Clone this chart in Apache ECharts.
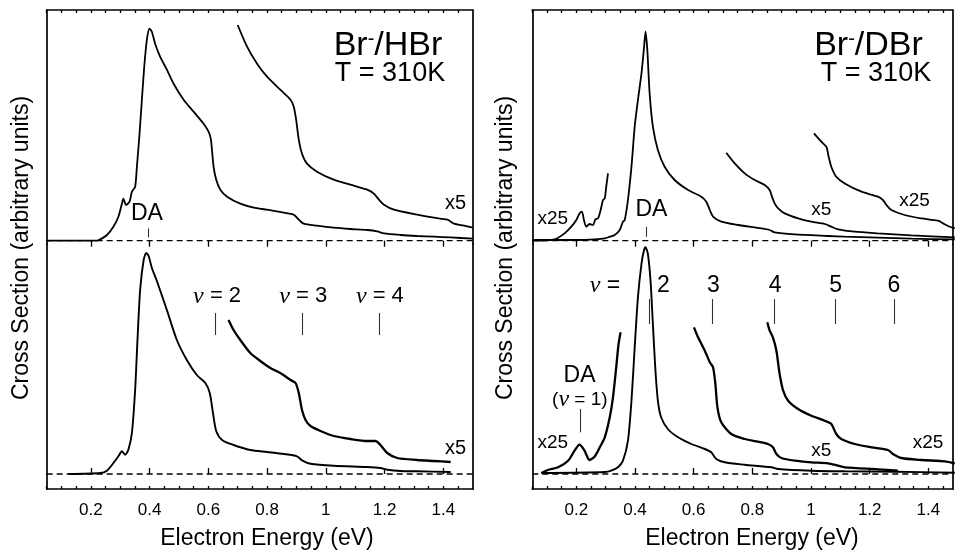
<!DOCTYPE html>
<html><head><meta charset="utf-8">
<script src="https://cdn.jsdelivr.net/npm/echarts@6/dist/echarts.min.js"></script>
<style>html,body{margin:0;padding:0;background:#fff}#c{width:958px;height:552px}</style>
</head><body><div id="c"></div>
<script>
// ---- tick labels ----
const xTickLabels = [0.2, 0.4, 0.6, 0.8, 1, 1.2, 1.4];
const xMinorTicks = [0.05,0.1,0.15,0.2,0.25,0.3,0.35,0.4,0.45,0.5,0.55,0.6,0.65,0.7,0.75,0.8,0.85,0.9,0.95,1,1.05,1.1,1.15,1.2,1.25,1.3,1.35,1.4,1.45];

// ---- Br-/HBr, calculated (top left) ----
const hbrCalc = [[0.05,0],[0.22,0],[0.232,1.3],[0.255,5.7],[0.277,14],[0.294,24],[0.306,37],[0.311,42],[0.32,35.7],[0.332,39],[0.34,49],[0.351,54],[0.357,74],[0.366,107],[0.374,141],[0.382,174],[0.391,201],[0.4,212],[0.408,209],[0.419,197],[0.436,184],[0.459,171],[0.482,157],[0.516,141],[0.55,129],[0.584,117],[0.601,109],[0.609,101],[0.618,74],[0.627,61],[0.641,51],[0.664,44],[0.709,37],[0.755,33],[0.8,31],[0.857,28],[0.891,26],[0.908,21],[0.925,17],[0.97,15],[1.027,13],[1.084,11.7],[1.141,10.7],[1.175,9.3],[1.198,7.3],[1.255,5.7],[1.311,4.7],[1.368,4],[1.425,3.3],[1.5,2]];
const hbrCalcX5 = [[0.7,215.7],[0.732,194],[0.766,177],[0.8,164],[0.845,151],[0.88,141],[0.891,134],[0.899,121],[0.908,101],[0.919,87],[0.936,77],[0.97,69],[1.027,61],[1.084,56],[1.141,51],[1.164,47],[1.181,41],[1.198,36],[1.232,31],[1.311,26],[1.368,23],[1.414,21],[1.436,17],[1.47,15],[1.5,13]];

// ---- Br-/HBr, measured (bottom left) ----
const hbrExp = [[0.124,0],[0.232,1],[0.255,3.3],[0.277,11],[0.294,17.7],[0.306,22.7],[0.317,19.3],[0.328,24.3],[0.34,41],[0.351,84],[0.359,134],[0.368,184],[0.38,214],[0.389,221],[0.397,218],[0.408,206],[0.425,193],[0.459,164],[0.493,134],[0.527,114],[0.561,99],[0.59,91],[0.605,81],[0.616,61],[0.627,43],[0.647,34],[0.686,29],[0.743,24],[0.8,22],[0.857,20],[0.902,17.7],[0.919,13.7],[0.948,10.3],[1.027,8.3],[1.141,7],[1.186,6],[1.209,4.3],[1.255,3],[1.311,2.7],[1.425,2]];
const hbrExpX5 = [[0.669,154],[0.686,144],[0.709,134],[0.743,121],[0.777,113],[0.811,106],[0.845,101],[0.88,94],[0.897,91],[0.908,81],[0.919,64],[0.931,54],[0.948,48],[0.982,43],[1.027,38],[1.084,35],[1.141,33],[1.169,33],[1.186,29],[1.209,21],[1.243,16],[1.311,14],[1.368,13],[1.425,12]];
const hbrVibThresholds = [0.624, 0.919, 1.181];
const hbrDA = 0.397;

// ---- Br-/DBr, calculated (top right) ----
const dbrCalc = [[0.05,0.7],[0.206,0.7],[0.262,1.3],[0.297,2.3],[0.314,4],[0.331,5.7],[0.348,10.7],[0.359,19],[0.365,20.7],[0.376,40.7],[0.388,74],[0.399,114],[0.41,140.7],[0.422,167],[0.43,190.7],[0.436,209],[0.442,190.7],[0.45,147],[0.461,114],[0.478,90.7],[0.501,74],[0.535,60.7],[0.581,50.7],[0.626,44],[0.643,39],[0.655,30.7],[0.666,24],[0.694,19],[0.751,15.7],[0.831,12.3],[0.859,10.7],[0.876,8.3],[0.944,6.3],[1.058,4.7],[1.115,4],[1.228,3],[1.342,2],[1.49,1.3]];
const dbrCalcX25Low = [[0.05,0],[0.126,1.3],[0.16,7.3],[0.183,14],[0.2,20.7],[0.211,27.3],[0.219,29],[0.226,20.7],[0.234,14],[0.245,16.7],[0.257,15.7],[0.265,21.3],[0.274,22.3],[0.283,30.7],[0.291,40.7],[0.297,42.3],[0.302,54],[0.308,67.3]];
const dbrCalcX5 = [[0.711,88],[0.74,77.3],[0.774,67.3],[0.808,60.7],[0.842,55.7],[0.859,50.7],[0.867,44],[0.876,37.3],[0.888,32.3],[0.91,27.3],[0.956,22.3],[1.001,19],[1.047,16.7],[1.069,14],[1.092,11.3],[1.149,9],[1.228,7.3],[1.285,6.3],[1.342,5.3],[1.49,3.3]];
const dbrCalcX25High = [[1.01,107.3],[1.035,99],[1.052,94],[1.06,84],[1.069,74],[1.086,64],[1.115,57.3],[1.172,49],[1.228,44],[1.245,40.7],[1.257,35.7],[1.274,30.7],[1.319,25.7],[1.376,22.3],[1.433,20],[1.45,17.3],[1.467,14.7],[1.49,12.3]];

// ---- Br-/DBr, measured (bottom right) ----
const dbrExp = [[0.081,1],[0.297,2],[0.319,3.3],[0.342,6.7],[0.359,13.3],[0.376,33.3],[0.388,73.3],[0.399,126.7],[0.41,176.7],[0.422,210],[0.43,223],[0.436,226.7],[0.444,220],[0.453,193],[0.461,150],[0.469,106.7],[0.478,73.3],[0.489,56.7],[0.512,45],[0.547,36.7],[0.592,30],[0.638,25],[0.66,21.7],[0.677,15],[0.706,11.7],[0.774,9.3],[0.865,6.7],[0.888,5],[1.001,3.3],[1.115,2.7],[1.285,2.3],[1.49,1.3]];
const dbrExpX25Low = [[0.081,1],[0.103,4],[0.138,6.7],[0.172,13.3],[0.194,23.3],[0.211,29.3],[0.228,23.3],[0.245,14],[0.262,17.3],[0.28,26.7],[0.297,36.7],[0.314,56.7],[0.325,76.7],[0.336,106.7],[0.344,130],[0.351,141.7]];
const dbrExpX5 = [[0.601,146.7],[0.615,136.7],[0.638,123.3],[0.655,111.7],[0.666,106.7],[0.674,90],[0.681,66.7],[0.694,51.7],[0.728,40],[0.774,35],[0.819,32.3],[0.853,30],[0.87,26.7],[0.882,20],[0.899,16],[0.944,13.3],[1.001,11.7],[1.058,10.7],[1.092,8.3],[1.115,6.7],[1.228,4.7],[1.296,3.3]];
const dbrExpX25High = [[0.851,151.7],[0.859,143.3],[0.87,136.7],[0.882,123.3],[0.893,100],[0.905,83.3],[0.922,73.3],[0.956,65],[1.001,58.3],[1.047,53.3],[1.069,50],[1.086,40],[1.103,35],[1.149,30],[1.206,26.7],[1.262,24],[1.279,20],[1.308,16],[1.376,14],[1.456,12.7],[1.49,10.7]];
const dbrVibThresholds = [0.449, 0.665, 0.876, 1.084, 1.282];
const dbrVibLabels = ['2','3','4','5','6'];
const dbrDA = 0.439;
const dbrDAv1 = 0.213;

// ---------------- layout ----------------
const FONT = '"Liberation Sans", Arial, Helvetica, sans-serif';
const grids = [
  {left:46.7, top:10, width:426, height:234},
  {left:46.7, top:244, width:426, height:245},
  {left:532.3, top:10, width:420.3, height:234},
  {left:532.3, top:244, width:420.3, height:245}
];
const xMaxes = [1.5, 1.5, 1.4825, 1.4825];
const yRanges = [[-3.3,230.7],[-15,230],[-3.3,230.7],[-15,230]];
const fmt = v => String(+(+v).toFixed(2));

const xAxis = [], yAxis = [];
grids.forEach((g, i) => {
  const top = i % 2 === 0;
  xAxis.push({type:'value', gridIndex:i, min:0.05, max:xMaxes[i], position: top?'top':'bottom',
    axisLine:{show:true, onZero:false, lineStyle:{color:'#000', width:1.7}},
    axisTick:{show:true, inside:true, length:3, customValues:xMinorTicks, lineStyle:{color:'#000', width:1.3}},
    axisLabel:{show:!top, customValues:xTickLabels, formatter:fmt, fontSize:17, color:'#000', fontFamily:FONT, margin:13},
    splitLine:{show:false}});
  xAxis.push({type:'value', gridIndex:i, min:0.05, max:xMaxes[i], position: top?'top':'bottom',
    axisLine:{show:false},
    axisTick:{show:true, inside:true, length:6, customValues:xTickLabels, lineStyle:{color:'#000', width:1.3}},
    axisLabel:{show:false}, splitLine:{show:false}});
  ['left','right'].forEach(p => yAxis.push({type:'value', gridIndex:i, min:yRanges[i][0], max:yRanges[i][1], position:p,
    axisLine:{show:true, onZero:false, lineStyle:{color:'#000', width:1.7}},
    axisTick:{show:false}, axisLabel:{show:false}, splitLine:{show:false}}));
});

const series = [];
function curve(g, data, w) {
  series.push({type:'line', xAxisIndex:2*g, yAxisIndex:2*g, data, showSymbol:false, symbol:'none',
    smooth:0.25, lineStyle:{color:'#000', width:w||1.8}, silent:true, z:3});
}
function baseline(g, markers) {
  series.push({type:'line', xAxisIndex:2*g, yAxisIndex:2*g, data:[[0.05,0],[xMaxes[g],0]], showSymbol:false, symbol:'none',
    lineStyle:{color:'#000', width:1.3, type:[6,4]}, silent:true, z:2,
    markLine:{silent:true, symbol:['none','none'], label:{show:false}, animation:false,
      lineStyle:{color:'#333', width:1.1, type:'solid'},
      data: markers.map(m => [{coord:[m[0], m[1]]}, {coord:[m[0], m[2]]}])}});
}
function labels(g, items) {
  series.push({type:'scatter', xAxisIndex:2*g, yAxisIndex:2*g, symbolSize:0, silent:true, z:5,
    itemStyle:{opacity:1, color:'#000'},
    data: items.map(it => ({name:it[0], value:[it[1], it[2]], label:{fontSize:it[3]||19, color:'#000', opacity:1}})),
    label:{show:true, position:'inside', color:'#000', opacity:1, textBorderWidth:0, fontFamily:FONT,
      formatter: p => p.name.replace(/ν/g, '{n|ν}'),
      rich:{n:{fontFamily:'"Liberation Serif", "DejaVu Serif", serif', fontStyle:'italic', fontSize:24, color:'#000'}}}});
}

// top left
baseline(0, [[hbrDA, 3.3, 12.3]]);
curve(0, hbrCalc); curve(0, hbrCalcX5);
labels(0, [['DA',0.391,27.3,23],['x5',1.442,37.3,20]]);
// bottom left
baseline(1, hbrVibThresholds.map(e => [e, 139, 161]));
curve(1, hbrExp, 1.9); curve(1, hbrExpX5, 2.3);
labels(1, [['ν = 2',0.63,177.6,22],['ν = 3',0.923,177.6,22],['ν = 4',1.184,177.6,22],['x5',1.442,26,20]]);
// top right
baseline(2, [[dbrDA, 4, 14]]);
curve(2, dbrCalc); curve(2, dbrCalcX25Low); curve(2, dbrCalcX5); curve(2, dbrCalcX25High);
labels(2, [['x25',0.12,22.3,19],['DA',0.456,30.7,23],['x5',1.035,30.7,19],['x25',1.353,39.7,19]]);
// bottom right
baseline(3, dbrVibThresholds.map(e => [e, 150, 175]).concat([[dbrDAv1, 41.7, 65]]));
curve(3, dbrExp, 1.9); curve(3, dbrExpX25Low, 2.3); curve(3, dbrExpX5, 2.3); curve(3, dbrExpX25High, 2.3);
labels(3, [['ν =',0.298,188,23]].concat(dbrVibLabels.map((t,i)=>[t,[0.497,0.667,0.878,1.084,1.282][i],188,23]))
  .concat([['DA',0.211,98,23],['(ν = 1)',0.212,74,19],['x25',0.12,31.7,19],['x5',1.035,23.3,19],['x25',1.399,31.7,19]]));

const titleRich = {a:{fontSize:34, fontFamily:FONT, color:'#000'}, s:{fontSize:20, fontFamily:FONT, color:'#000', verticalAlign:'top', lineHeight:34}};
const graphic = [
  {type:'text', x:388, y:46, style:{text:'{a|Br}{s|-}{a|/HBr}', rich:titleRich, align:'center', verticalAlign:'middle'}},
  {type:'text', x:390, y:74, style:{text:'T = 310K', fontSize:27, fontFamily:FONT, fill:'#000', align:'center', verticalAlign:'middle'}},
  {type:'text', x:868.5, y:46, style:{text:'{a|Br}{s|-}{a|/DBr}', rich:titleRich, align:'center', verticalAlign:'middle'}},
  {type:'text', x:876, y:74, style:{text:'T = 310K', fontSize:27, fontFamily:FONT, fill:'#000', align:'center', verticalAlign:'middle'}},
  {type:'text', x:267, y:539, style:{text:'Electron Energy (eV)', fontSize:23, fontFamily:FONT, fill:'#000', align:'center', verticalAlign:'middle'}},
  {type:'text', x:752, y:539, style:{text:'Electron Energy (eV)', fontSize:23, fontFamily:FONT, fill:'#000', align:'center', verticalAlign:'middle'}},
  {type:'text', x:21.7, y:248, rotation:Math.PI/2, style:{text:'Cross Section (arbitrary units)', fontSize:23, fontFamily:FONT, fill:'#000', align:'center', verticalAlign:'middle'}},
  {type:'text', x:505.5, y:248, rotation:Math.PI/2, style:{text:'Cross Section (arbitrary units)', fontSize:23, fontFamily:FONT, fill:'#000', align:'center', verticalAlign:'middle'}}
];

const chart = echarts.init(document.getElementById('c'), null, {renderer:'canvas'});
chart.setOption({animation:false, backgroundColor:'#fff', grid:grids, xAxis, yAxis, series, graphic});
</script></body></html>
